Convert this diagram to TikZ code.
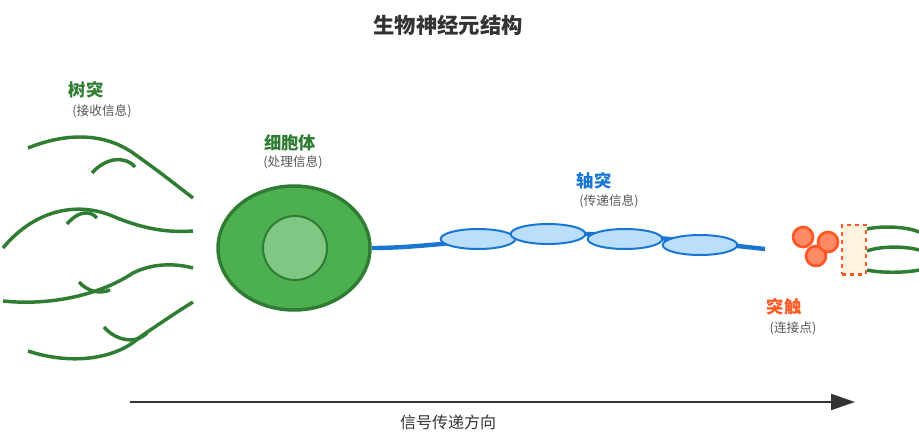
\documentclass[tikz,border=0pt]{standalone}
\usepackage{fontspec}
\setmainfont{Noto Sans CJK SC}
\usepackage{tikz}
\usetikzlibrary{arrows.meta,shapes.geometric}
\definecolor{dgreen}{HTML}{2E7D32}
\definecolor{mgreen}{HTML}{4CAF50}
\definecolor{lgreen}{HTML}{81C784}
\definecolor{axblue}{HTML}{1976D2}
\definecolor{myblue}{HTML}{BBDEFB}
\definecolor{synred}{HTML}{FF5722}
\definecolor{synfill}{HTML}{FF8A65}
\definecolor{cleft}{HTML}{FFF3E0}
\definecolor{txtgray}{HTML}{555555}

\begin{document}
\begin{tikzpicture}[
        x=0.75pt, y=-0.75pt,
        dendrite/.style = {draw=dgreen, line width=2.6pt, line cap=butt},
        myelin/.style = {draw=axblue, fill=myblue, line width=1.5pt, ellipse, minimum width=56pt, minimum height=15pt, inner sep=0pt},
        vesicle/.style = {draw=synred, fill=synfill, line width=2pt, circle, minimum size=15pt, inner sep=0pt},
        head/.style = {font=\bfseries\fontsize{13}{15}\selectfont},
        note/.style = {text=txtgray, font=\fontsize{9.5}{11}\selectfont}
    ]
    \useasboundingbox (0,0) rectangle (919,442);

    % title
    \node[font=\bfseries\fontsize{16}{19}\selectfont, text=black!80] (title) at (448,25) {生物神经元结构};

    % dendrites
    \draw[dendrite] (28,148) .. controls (60,135) and (100,130) .. (133,153) .. controls (160,172) and (180,188) .. (193,198);
    \draw[dendrite] (92,173) .. controls (105,158) and (125,155) .. (135,167);
    \draw[dendrite] (3,248) .. controls (30,215) and (70,200) .. (110,215) .. controls (140,228) and (165,233) .. (193,231);
    \draw[dendrite] (67,224) .. controls (78,211) and (90,210) .. (97,218);
    \draw[dendrite] (3,301) .. controls (50,306) and (100,295) .. (133,273) .. controls (155,262) and (178,264) .. (193,268);
    \draw[dendrite] (79,282) .. controls (88,292) and (100,294) .. (110,290);
    \draw[dendrite] (28,351) .. controls (70,365) and (115,360) .. (140,337) .. controls (165,320) and (180,310) .. (193,302);
    \draw[dendrite] (104,327) .. controls (115,340) and (135,345) .. (147,333);

    % cell body
    \node[ellipse, draw=dgreen, fill=mgreen, line width=2.6pt, minimum width=114pt, minimum height=93pt] (soma) at (294,248) {};
    \node[circle, draw=dgreen, fill=lgreen, line width=1.5pt, minimum size=48pt] (nucleus) at (295,248) {};

    % axon
    \coordinate (axend) at (765,249);
    \draw[axblue, line width=3.3pt] (soma.east) .. controls (420,248) and (470,240) .. (548,234) .. controls (620,232) and (700,242) .. (axend);
    \node[myelin] (m1) at (478,239) {};
    \node[myelin] (m2) at (548,234) {};
    \node[myelin] (m3) at (625,239) {};
    \node[myelin] (m4) at (700,245) {};

    % synapse
    \node[draw=synred, fill=cleft, dashed, line width=2pt, minimum width=18pt, minimum height=37pt, inner sep=0pt] (cleft) at (854,249.5) {};
    \node[vesicle] (v1) at (803,237) {};
    \node[vesicle] (v3) at (816,256) {};
    \node[vesicle] (v2) at (828,242) {};
    \coordinate (p1) at (919,232);
    \coordinate (p2) at (919,250);
    \coordinate (p3) at (919,270);
    \draw[dendrite] (867,229) .. controls (880,226) and (905,226) .. (p1);
    \draw[dendrite] (867,251) .. controls (880,246) and (905,246) .. (p2);
    \draw[dendrite] (867,270) .. controls (880,273) and (905,273) .. (p3);

    % labels
    \node[head, text=dgreen] (lden) at (86,90) {树突};
    \node[note] (lden2) at (102,111) {(接收信息)};
    \node[head, text=dgreen] (lsoma) at (290,143) {细胞体};
    \node[note] (lsoma2) at (293,162) {(处理信息)};
    \node[head, text=axblue] (lax) at (594,181) {轴突};
    \node[note] (lax2) at (609,201) {(传递信息)};
    \node[head, text=synred] (lsyn) at (784,307) {突触};
    \node[note] (lsyn2) at (793,328) {(连接点)};

    % signal direction
    \coordinate (sigstart) at (130,402);
    \coordinate (sigend) at (855,402);
    \draw[black!80, line width=1.6pt, -{Triangle[length=18pt, width=12pt]}] (sigstart) -- (sigend);
    \node[font=\fontsize{12}{14}\selectfont, text=black!80] (lsig) at (448,422) {信号传递方向};
\end{tikzpicture}
\end{document}
